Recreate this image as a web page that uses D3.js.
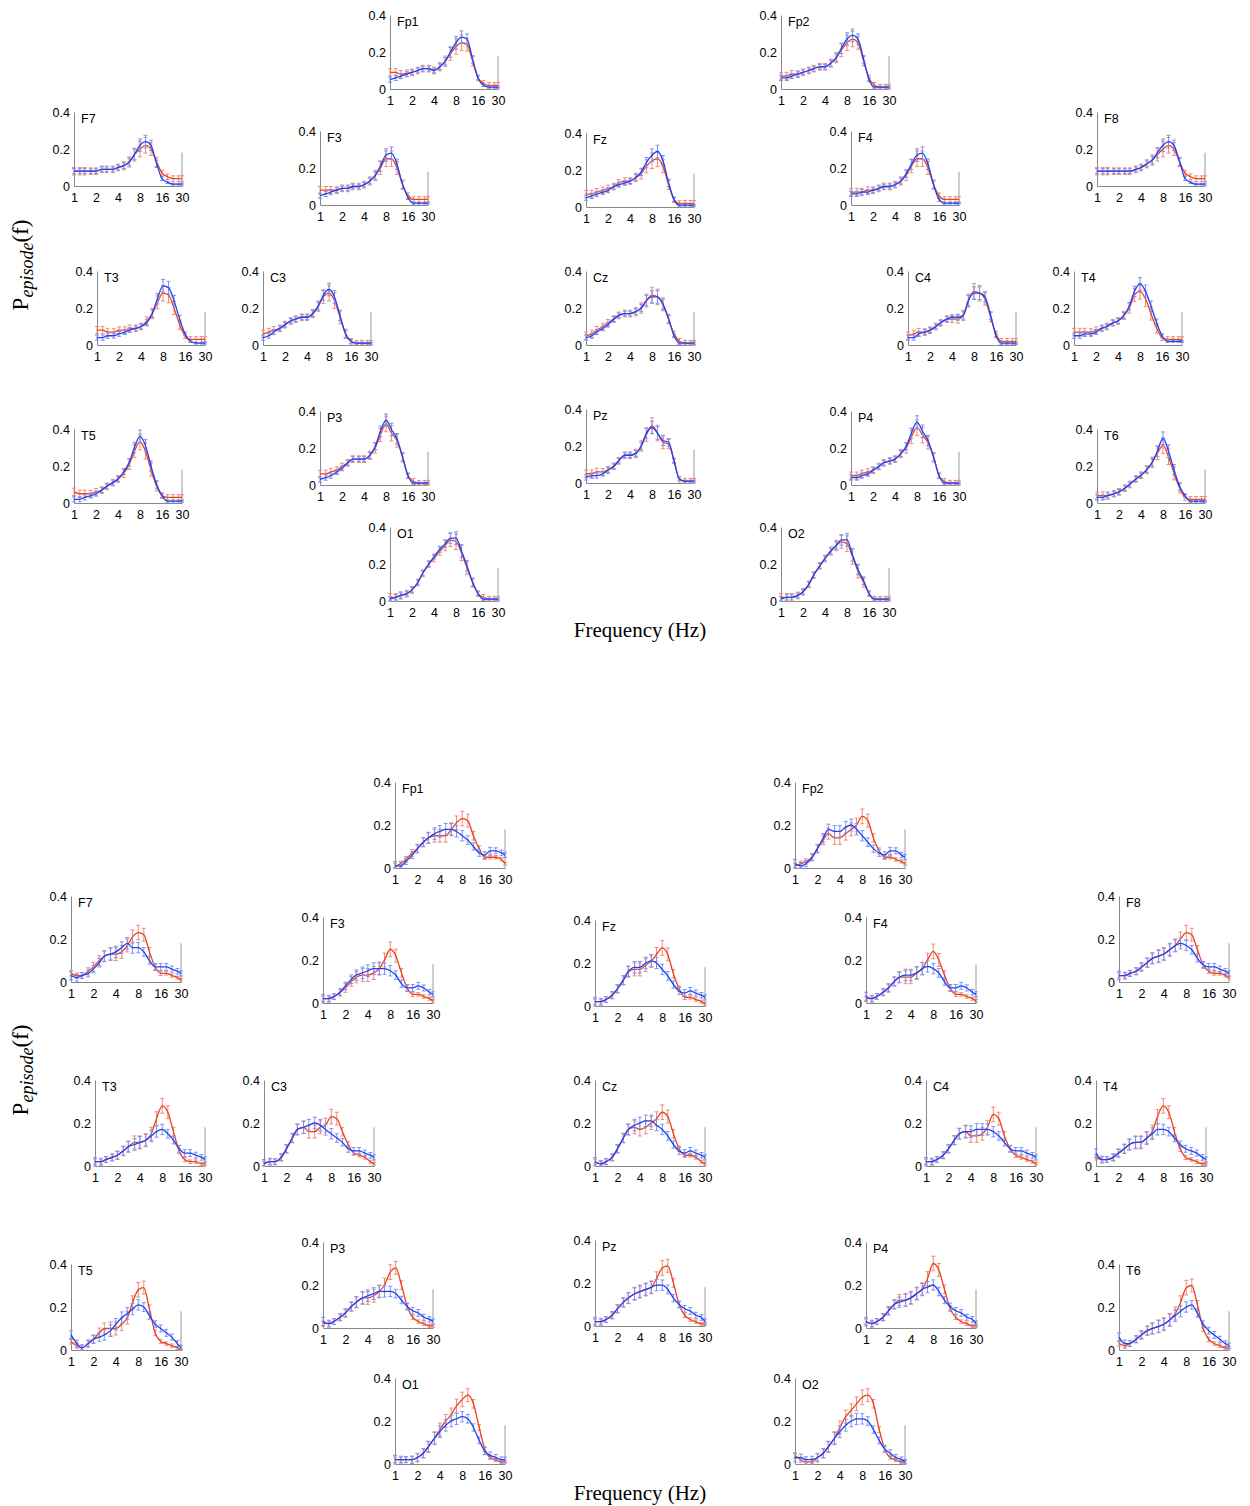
<!DOCTYPE html>
<html>
<head>
<meta charset="utf-8">
<script src="https://cdn.jsdelivr.net/npm/d3@7"></script>
<style>
  body { margin: 0; background: #fff; }
  svg { display: block; }
  .tick text { font-family: "Liberation Sans", Arial, sans-serif; font-size: 12.5px; fill: #000; }
</style>
</head>
<body>
<svg id="chart"></svg>
<script>
"use strict";

const width = 1250;
const height = 1506;

const channels = ["Fp1", "Fp2", "F7", "F3", "Fz", "F4", "F8", "T3", "C3", "Cz", "C4", "T4", "T5", "P3", "Pz", "P4", "T6", "O1", "O2"];
const freqs = [1, 1.2, 1.4, 1.7, 2, 2.4, 2.8, 3.4, 4, 4.8, 5.7, 6.7, 8, 9.5, 11.3, 13.5, 16, 19, 22.6, 26.9, 30];
const xTicks = [1, 2, 4, 8, 16, 30];
const yTicks = [0, 0.2, 0.4];

// upper figure, one row per channel (same order as channels)
const topRed = [
  [0.09,0.09,0.08,0.085,0.09,0.10,0.11,0.11,0.10,0.12,0.15,0.19,0.23,0.25,0.24,0.15,0.06,0.03,0.02,0.02,0.02],
  [0.07,0.07,0.08,0.08,0.09,0.10,0.11,0.12,0.12,0.14,0.17,0.21,0.25,0.27,0.25,0.15,0.06,0.02,0.01,0.01,0.01],
  [0.08,0.08,0.08,0.08,0.08,0.09,0.09,0.09,0.10,0.11,0.13,0.17,0.20,0.22,0.20,0.13,0.07,0.05,0.04,0.04,0.04],
  [0.08,0.08,0.08,0.08,0.09,0.09,0.10,0.10,0.11,0.13,0.16,0.20,0.25,0.25,0.20,0.11,0.05,0.03,0.03,0.03,0.03],
  [0.07,0.07,0.08,0.09,0.10,0.11,0.13,0.14,0.14,0.16,0.18,0.22,0.25,0.26,0.22,0.12,0.04,0.02,0.02,0.02,0.02],
  [0.07,0.07,0.07,0.08,0.08,0.09,0.10,0.10,0.11,0.13,0.16,0.21,0.25,0.25,0.20,0.11,0.05,0.03,0.03,0.03,0.03],
  [0.08,0.08,0.08,0.08,0.08,0.08,0.08,0.09,0.10,0.12,0.14,0.17,0.20,0.22,0.20,0.13,0.07,0.05,0.04,0.04,0.04],
  [0.08,0.08,0.07,0.07,0.08,0.08,0.09,0.09,0.10,0.13,0.17,0.23,0.28,0.27,0.20,0.11,0.05,0.03,0.03,0.03,0.03],
  [0.06,0.07,0.08,0.09,0.11,0.13,0.14,0.15,0.15,0.17,0.21,0.26,0.28,0.24,0.15,0.06,0.02,0.01,0.01,0.01,0.01],
  [0.05,0.06,0.08,0.10,0.12,0.14,0.16,0.17,0.17,0.18,0.20,0.24,0.27,0.26,0.22,0.14,0.06,0.02,0.01,0.01,0.01],
  [0.05,0.06,0.07,0.07,0.08,0.10,0.12,0.14,0.14,0.14,0.16,0.24,0.29,0.28,0.25,0.15,0.06,0.02,0.02,0.02,0.02],
  [0.07,0.07,0.07,0.07,0.08,0.09,0.10,0.12,0.13,0.16,0.20,0.27,0.29,0.25,0.17,0.09,0.04,0.03,0.03,0.03,0.03],
  [0.06,0.05,0.05,0.05,0.06,0.07,0.09,0.11,0.13,0.16,0.21,0.28,0.33,0.28,0.18,0.09,0.04,0.03,0.03,0.03,0.03],
  [0.06,0.06,0.07,0.08,0.10,0.12,0.14,0.14,0.14,0.16,0.20,0.27,0.33,0.28,0.24,0.15,0.05,0.02,0.01,0.01,0.01],
  [0.05,0.05,0.06,0.06,0.07,0.09,0.12,0.15,0.15,0.16,0.20,0.26,0.31,0.27,0.22,0.21,0.12,0.02,0.01,0.01,0.01],
  [0.05,0.05,0.06,0.07,0.08,0.10,0.12,0.13,0.14,0.17,0.20,0.26,0.31,0.27,0.23,0.15,0.05,0.02,0.01,0.01,0.01],
  [0.04,0.04,0.04,0.05,0.06,0.08,0.10,0.13,0.15,0.18,0.22,0.27,0.31,0.25,0.16,0.08,0.03,0.02,0.02,0.02,0.02],
  [0.02,0.02,0.03,0.04,0.06,0.10,0.15,0.20,0.23,0.27,0.30,0.33,0.32,0.26,0.18,0.10,0.04,0.02,0.01,0.01,0.01],
  [0.02,0.02,0.02,0.03,0.05,0.09,0.14,0.19,0.23,0.27,0.30,0.32,0.31,0.24,0.16,0.10,0.04,0.01,0.01,0.01,0.01]
];
const topBlue = [
  [0.05,0.06,0.07,0.08,0.09,0.10,0.11,0.11,0.10,0.12,0.15,0.20,0.25,0.28,0.27,0.16,0.06,0.02,0.01,0.01,0.01],
  [0.06,0.06,0.07,0.08,0.09,0.10,0.11,0.12,0.12,0.14,0.17,0.22,0.27,0.29,0.27,0.16,0.05,0.01,0.01,0.01,0.01],
  [0.08,0.08,0.08,0.08,0.08,0.09,0.09,0.09,0.10,0.11,0.13,0.17,0.22,0.24,0.22,0.12,0.04,0.02,0.01,0.01,0.01],
  [0.05,0.06,0.07,0.08,0.09,0.09,0.10,0.10,0.11,0.13,0.16,0.21,0.27,0.28,0.22,0.11,0.04,0.01,0.01,0.01,0.01],
  [0.05,0.06,0.07,0.08,0.09,0.11,0.12,0.13,0.14,0.16,0.19,0.24,0.28,0.30,0.25,0.13,0.04,0.01,0.01,0.01,0.01],
  [0.06,0.06,0.07,0.07,0.08,0.09,0.10,0.10,0.11,0.13,0.17,0.22,0.27,0.28,0.22,0.11,0.03,0.01,0.01,0.01,0.01],
  [0.08,0.08,0.08,0.08,0.08,0.08,0.08,0.09,0.10,0.12,0.14,0.18,0.22,0.24,0.22,0.13,0.04,0.02,0.01,0.01,0.01],
  [0.04,0.04,0.05,0.05,0.06,0.07,0.08,0.09,0.10,0.12,0.17,0.25,0.32,0.31,0.24,0.14,0.06,0.02,0.01,0.01,0.01],
  [0.04,0.05,0.07,0.09,0.11,0.13,0.14,0.15,0.15,0.17,0.21,0.27,0.30,0.26,0.16,0.06,0.02,0.01,0.01,0.01,0.01],
  [0.04,0.05,0.07,0.09,0.11,0.14,0.16,0.17,0.17,0.18,0.20,0.24,0.26,0.26,0.22,0.14,0.05,0.01,0.01,0.01,0.01],
  [0.04,0.04,0.06,0.07,0.08,0.10,0.12,0.14,0.15,0.15,0.16,0.24,0.28,0.28,0.26,0.16,0.05,0.01,0.01,0.01,0.01],
  [0.05,0.05,0.06,0.06,0.07,0.09,0.10,0.12,0.13,0.16,0.21,0.29,0.33,0.29,0.21,0.12,0.05,0.02,0.02,0.02,0.02],
  [0.02,0.02,0.03,0.04,0.05,0.07,0.09,0.11,0.13,0.17,0.22,0.30,0.36,0.31,0.20,0.10,0.04,0.01,0.01,0.01,0.01],
  [0.03,0.04,0.05,0.07,0.09,0.12,0.14,0.14,0.14,0.16,0.21,0.29,0.35,0.30,0.25,0.15,0.05,0.01,0.01,0.01,0.01],
  [0.03,0.04,0.04,0.05,0.07,0.09,0.12,0.15,0.15,0.16,0.20,0.27,0.30,0.27,0.23,0.22,0.12,0.02,0.01,0.01,0.01],
  [0.04,0.04,0.05,0.06,0.08,0.10,0.12,0.13,0.14,0.17,0.21,0.28,0.34,0.29,0.24,0.15,0.05,0.01,0.01,0.01,0.01],
  [0.03,0.03,0.04,0.05,0.06,0.08,0.10,0.13,0.15,0.18,0.22,0.28,0.35,0.28,0.18,0.09,0.04,0.01,0.01,0.01,0.01],
  [0.01,0.02,0.03,0.04,0.06,0.10,0.15,0.20,0.24,0.28,0.31,0.34,0.34,0.27,0.19,0.10,0.04,0.01,0.01,0.01,0.01],
  [0.01,0.02,0.02,0.03,0.05,0.09,0.14,0.19,0.23,0.27,0.30,0.33,0.33,0.25,0.17,0.11,0.04,0.01,0.01,0.01,0.01]
];

// lower figure, one row per channel
const bottomRed = [
  [0.01,0.02,0.04,0.07,0.09,0.12,0.14,0.15,0.15,0.15,0.18,0.21,0.23,0.22,0.15,0.09,0.05,0.05,0.05,0.04,0.02],
  [0.01,0.02,0.03,0.05,0.09,0.13,0.16,0.14,0.14,0.16,0.18,0.20,0.24,0.22,0.14,0.08,0.05,0.05,0.04,0.03,0.02],
  [0.04,0.03,0.03,0.05,0.07,0.10,0.12,0.13,0.13,0.14,0.17,0.21,0.23,0.22,0.14,0.07,0.04,0.04,0.03,0.02,0.01],
  [0.02,0.02,0.03,0.05,0.07,0.10,0.12,0.13,0.13,0.14,0.16,0.20,0.25,0.22,0.14,0.07,0.04,0.04,0.03,0.02,0.01],
  [0.02,0.02,0.03,0.05,0.08,0.12,0.16,0.17,0.17,0.19,0.21,0.24,0.27,0.24,0.15,0.08,0.04,0.04,0.03,0.02,0.01],
  [0.02,0.02,0.03,0.05,0.07,0.10,0.12,0.12,0.12,0.14,0.16,0.20,0.24,0.20,0.13,0.07,0.04,0.04,0.03,0.02,0.01],
  [0.03,0.03,0.04,0.05,0.07,0.09,0.11,0.12,0.13,0.15,0.17,0.20,0.23,0.22,0.15,0.08,0.05,0.04,0.04,0.03,0.02],
  [0.02,0.02,0.03,0.04,0.05,0.07,0.09,0.11,0.11,0.12,0.15,0.22,0.28,0.25,0.16,0.07,0.03,0.02,0.02,0.01,0.01],
  [0.01,0.02,0.02,0.04,0.08,0.13,0.17,0.18,0.16,0.16,0.18,0.19,0.23,0.22,0.16,0.10,0.06,0.05,0.04,0.02,0.01],
  [0.02,0.01,0.02,0.04,0.08,0.13,0.17,0.18,0.17,0.18,0.20,0.22,0.25,0.23,0.15,0.08,0.05,0.05,0.04,0.02,0.01],
  [0.02,0.02,0.03,0.05,0.08,0.12,0.15,0.16,0.14,0.14,0.15,0.18,0.24,0.22,0.14,0.08,0.05,0.04,0.03,0.02,0.01],
  [0.04,0.03,0.03,0.04,0.06,0.08,0.10,0.11,0.11,0.13,0.16,0.23,0.28,0.25,0.16,0.08,0.04,0.03,0.02,0.01,0.01],
  [0.04,0.02,0.01,0.03,0.05,0.08,0.10,0.10,0.10,0.12,0.15,0.22,0.28,0.29,0.19,0.08,0.04,0.03,0.02,0.01,0.00],
  [0.02,0.02,0.03,0.05,0.07,0.10,0.12,0.14,0.14,0.15,0.17,0.20,0.26,0.28,0.20,0.10,0.05,0.03,0.02,0.01,0.01],
  [0.02,0.02,0.03,0.05,0.08,0.11,0.13,0.15,0.16,0.17,0.18,0.22,0.27,0.28,0.20,0.10,0.05,0.03,0.02,0.01,0.01],
  [0.03,0.02,0.03,0.05,0.08,0.11,0.13,0.13,0.14,0.16,0.18,0.23,0.30,0.27,0.18,0.09,0.05,0.03,0.02,0.01,0.01],
  [0.03,0.02,0.03,0.05,0.07,0.09,0.10,0.11,0.12,0.14,0.17,0.22,0.29,0.30,0.21,0.10,0.05,0.03,0.02,0.01,0.01],
  [0.02,0.02,0.02,0.02,0.03,0.05,0.08,0.12,0.16,0.20,0.23,0.27,0.30,0.32,0.28,0.17,0.07,0.03,0.02,0.01,0.01],
  [0.04,0.02,0.01,0.01,0.03,0.05,0.08,0.12,0.17,0.22,0.25,0.28,0.31,0.32,0.28,0.16,0.07,0.03,0.02,0.01,0.01]
];
const bottomBlue = [
  [0.01,0.01,0.03,0.06,0.09,0.12,0.14,0.16,0.17,0.18,0.18,0.17,0.15,0.13,0.10,0.07,0.06,0.08,0.08,0.07,0.06],
  [0.02,0.01,0.02,0.05,0.09,0.14,0.18,0.17,0.17,0.19,0.20,0.18,0.15,0.12,0.09,0.07,0.06,0.08,0.08,0.06,0.05],
  [0.03,0.02,0.03,0.04,0.06,0.09,0.12,0.13,0.14,0.16,0.18,0.16,0.16,0.14,0.10,0.07,0.07,0.07,0.06,0.05,0.04],
  [0.02,0.02,0.03,0.05,0.08,0.11,0.13,0.14,0.15,0.16,0.16,0.16,0.15,0.13,0.09,0.07,0.07,0.08,0.07,0.05,0.04],
  [0.02,0.02,0.03,0.05,0.08,0.12,0.16,0.18,0.18,0.20,0.21,0.20,0.17,0.14,0.10,0.07,0.06,0.07,0.06,0.05,0.04],
  [0.03,0.02,0.03,0.05,0.07,0.10,0.12,0.13,0.13,0.14,0.16,0.17,0.16,0.14,0.10,0.07,0.07,0.08,0.07,0.05,0.04],
  [0.03,0.03,0.04,0.05,0.07,0.09,0.11,0.12,0.13,0.15,0.17,0.18,0.17,0.15,0.11,0.08,0.07,0.07,0.06,0.05,0.04],
  [0.02,0.02,0.03,0.04,0.05,0.07,0.09,0.10,0.11,0.12,0.14,0.16,0.17,0.15,0.12,0.08,0.06,0.06,0.05,0.04,0.03],
  [0.01,0.02,0.02,0.04,0.08,0.13,0.17,0.18,0.19,0.20,0.19,0.17,0.15,0.13,0.11,0.08,0.07,0.07,0.06,0.05,0.04],
  [0.02,0.01,0.02,0.04,0.08,0.13,0.17,0.19,0.20,0.21,0.21,0.19,0.17,0.14,0.10,0.07,0.06,0.07,0.06,0.05,0.04],
  [0.02,0.02,0.03,0.05,0.08,0.12,0.15,0.16,0.16,0.17,0.17,0.17,0.16,0.14,0.11,0.08,0.07,0.07,0.06,0.05,0.04],
  [0.06,0.03,0.03,0.04,0.06,0.08,0.10,0.11,0.11,0.13,0.15,0.17,0.17,0.16,0.13,0.10,0.08,0.07,0.06,0.04,0.03],
  [0.07,0.03,0.01,0.03,0.05,0.06,0.07,0.09,0.12,0.15,0.17,0.19,0.21,0.20,0.16,0.12,0.10,0.08,0.06,0.03,0.01],
  [0.03,0.02,0.03,0.05,0.07,0.10,0.12,0.14,0.15,0.16,0.17,0.17,0.17,0.16,0.13,0.10,0.08,0.07,0.05,0.04,0.03],
  [0.02,0.02,0.03,0.05,0.08,0.11,0.13,0.15,0.16,0.17,0.18,0.19,0.19,0.17,0.13,0.10,0.08,0.07,0.05,0.04,0.02],
  [0.03,0.02,0.03,0.05,0.08,0.11,0.12,0.13,0.14,0.16,0.18,0.19,0.20,0.17,0.13,0.10,0.08,0.07,0.05,0.04,0.02],
  [0.06,0.03,0.03,0.05,0.07,0.09,0.10,0.11,0.12,0.14,0.16,0.18,0.20,0.21,0.17,0.12,0.09,0.07,0.05,0.03,0.02],
  [0.02,0.02,0.02,0.02,0.03,0.05,0.08,0.12,0.15,0.18,0.20,0.21,0.22,0.21,0.17,0.11,0.06,0.04,0.03,0.02,0.02],
  [0.03,0.03,0.02,0.02,0.03,0.05,0.08,0.12,0.15,0.18,0.20,0.21,0.21,0.20,0.16,0.11,0.07,0.05,0.03,0.02,0.01]
];

// error bar half-widths by frequency
const topRedErr = [0.02,0.02,0.02,0.018,0.018,0.018,0.018,0.018,0.018,0.022,0.028,0.035,0.042,0.042,0.035,0.025,0.015,0.015,0.015,0.015,0.015];
const topBlueErr = [0.014,0.014,0.014,0.013,0.013,0.013,0.013,0.013,0.013,0.016,0.02,0.028,0.034,0.034,0.028,0.02,0.01,0.006,0.005,0.005,0.005];
const bottomRedErr = [0.012,0.012,0.013,0.016,0.02,0.022,0.026,0.03,0.03,0.03,0.03,0.032,0.034,0.03,0.02,0.013,0.01,0.008,0.008,0.007,0.006];
const bottomBlueErr = [0.02,0.016,0.014,0.016,0.017,0.02,0.024,0.027,0.027,0.027,0.027,0.026,0.024,0.02,0.017,0.016,0.016,0.016,0.014,0.013,0.012];

// layout: left edge and zero line of each small plot
const topPos = [
  [390, 89], [781, 89],
  [74, 186], [320, 205], [586, 207], [851, 205], [1097, 186],
  [97, 345], [263, 345], [586, 345], [908, 345], [1074, 345],
  [74, 503], [320, 485], [586, 483], [851, 485], [1097, 503],
  [390, 601], [781, 601]
];
const bottomPos = [
  [395, 868], [795, 868],
  [71, 982], [323, 1003], [595, 1006], [866, 1003], [1119, 982],
  [95, 1166], [264, 1166], [595, 1166], [926, 1166], [1096, 1166],
  [71, 1350], [323, 1328], [595, 1326], [866, 1328], [1119, 1350],
  [395, 1464], [795, 1464]
];

const redLine = "#e8431f";
const redBar = "#f28b76";
const blueLine = "#2242f0";
const blueBar = "#7b93f6";

const svg = d3.select("#chart").attr("width", width).attr("height", height);

const drawSeries = (g, xScale, yScale, values, errs, lineColor, barColor) => {
  const pts = freqs.map((f, i) => ({ f: f, v: values[i], e: errs[i] }));
  const lo = (d) => yScale(Math.max(0, d.v - d.e));
  const hi = (d) => yScale(d.v + d.e);
  const bars = g.append("g");
  bars.selectAll("line.eb")
    .data(pts)
    .enter()
    .append("line")
    .attr("x1", (d) => xScale(d.f))
    .attr("x2", (d) => xScale(d.f))
    .attr("y1", lo)
    .attr("y2", hi)
    .attr("stroke", barColor)
    .attr("stroke-width", 1);
  [lo, hi].forEach((yf) => {
    bars.selectAll(null)
      .data(pts)
      .enter()
      .append("line")
      .attr("x1", (d) => xScale(d.f) - 2)
      .attr("x2", (d) => xScale(d.f) + 2)
      .attr("y1", yf)
      .attr("y2", yf)
      .attr("stroke", barColor)
      .attr("stroke-width", 1);
  });
  const line = d3.line()
    .x((d) => xScale(d.f))
    .y((d) => yScale(d.v))
    .curve(d3.curveMonotoneX);
  g.append("path")
    .datum(pts)
    .attr("d", line)
    .attr("fill", "none")
    .attr("stroke", lineColor)
    .attr("stroke-width", 1.3);
};

const drawPanel = (pos, w, h, red, blue, redErr, blueErr) => {
  channels.forEach((name, i) => {
    const [x0, y0] = pos[i];
    const g = svg.append("g").attr("transform", `translate(${x0},${y0 - h})`);
    const xScale = d3.scaleLog().domain([1, 30]).range([0, w]);
    const yScale = d3.scaleLinear().domain([0, 0.4]).range([h, 0]);

    const xAxis = d3.axisBottom(xScale).tickValues(xTicks).tickFormat(d3.format("d")).tickSize(0).tickPadding(7);
    const yAxis = d3.axisLeft(yScale).tickValues(yTicks).tickFormat((d) => (d === 0 ? "0" : d3.format(".1f")(d))).tickSize(0).tickPadding(4);

    g.append("g").attr("transform", `translate(0,${h})`).call(xAxis)
      .call((a) => a.select(".domain").attr("stroke", "#888"));
    g.append("g").call(yAxis)
      .call((a) => a.select(".domain").attr("stroke", "#888"));

    // short right edge marker at 30 Hz
    g.append("line")
      .attr("x1", xScale(30)).attr("x2", xScale(30))
      .attr("y1", yScale(0)).attr("y2", yScale(0.18))
      .attr("stroke", "#999").attr("stroke-width", 1);

    drawSeries(g, xScale, yScale, red[i], redErr, redLine, redBar);
    drawSeries(g, xScale, yScale, blue[i], blueErr, blueLine, blueBar);

    g.append("text")
      .attr("x", 7)
      .attr("y", yScale(0.37) + 5)
      .attr("font-family", "Liberation Sans, Arial, sans-serif")
      .attr("font-size", 12.5)
      .text(name);
  });
};

drawPanel(topPos, 108, 74, topRed, topBlue, topRedErr, topBlueErr);
drawPanel(bottomPos, 110, 86, bottomRed, bottomBlue, bottomRedErr, bottomBlueErr);

const axisLabels = (yCenter, xBase) => {
  const t = svg.append("text")
    .attr("transform", `translate(28,${yCenter}) rotate(-90)`)
    .attr("text-anchor", "middle")
    .attr("font-family", "Liberation Serif, Times New Roman, serif")
    .attr("font-size", 23);
  t.append("tspan").text("P");
  t.append("tspan").attr("font-style", "italic").attr("font-size", 18).attr("dy", 5).text("episode");
  t.append("tspan").attr("dy", -5).text("(f)");

  svg.append("text")
    .attr("x", 640)
    .attr("y", xBase)
    .attr("text-anchor", "middle")
    .attr("font-family", "Liberation Serif, Times New Roman, serif")
    .attr("font-size", 21)
    .text("Frequency (Hz)");
};

axisLabels(265, 637);
axisLabels(1070, 1500);
</script>
</body>
</html>
